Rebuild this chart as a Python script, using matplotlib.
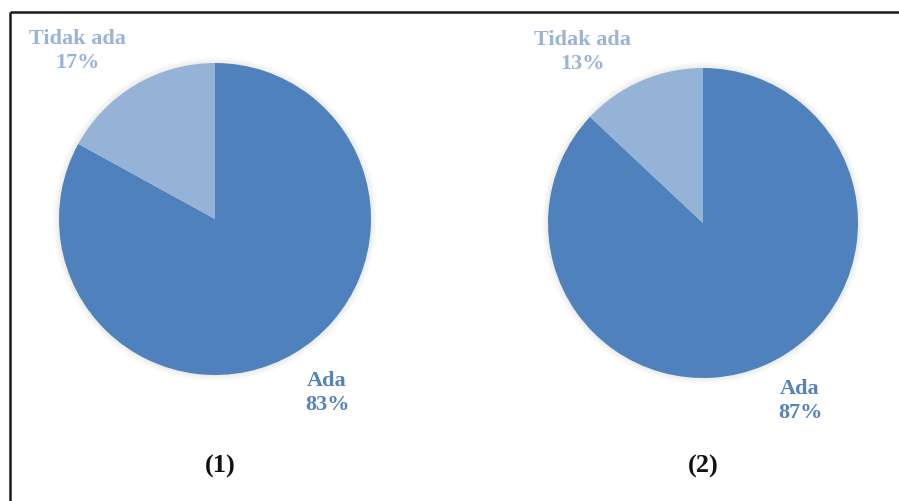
"""Two pie charts: Ada / Tidak ada, panels (1) and (2)."""
import matplotlib.pyplot as plt
from matplotlib.patches import Circle

W, H = 899, 502

labels = ["Ada", "Tidak ada"]
panel_names = ["(1)", "(2)"]
values_1 = [83, 17]
values_2 = [87, 13]

DARK = "#4F81BD"
LIGHT = "#95B3D7"
TXT_LIGHT = "#9AB4D5"
TXT_DARK = "#5482BC"
FONT = "Liberation Serif"


def fy(y):
    # picture y (from top) -> axes y (from bottom)
    return H - y


fig = plt.figure(figsize=(W / 100, H / 100), dpi=100)
ax = fig.add_axes([0, 0, 1, 1])

panels = [
    # values, centre, radius, label spots (tidak ada, ada), panel name spot
    (values_1, (215, 220), 156, (77, 51), (327, 393), (220, 466)),
    (values_2, (703, 224), 155, (582, 52), (800, 401), (703, 466)),
]

for (vals, (cx, cy), r, lt, la, lp), name in zip(panels, panel_names):
    # soft glow behind the pie
    for k in range(1, 7):
        ax.add_patch(Circle((cx, fy(cy)), r + k, color="#c8c8c0",
                            alpha=0.05, lw=0, zorder=1))
    ax.pie(vals, colors=[DARK, LIGHT], startangle=90, counterclock=False,
           center=(cx, fy(cy)), radius=r,
           wedgeprops=dict(linewidth=0, zorder=2))
    ax.text(lt[0], fy(lt[1]), f"{labels[1]}\n{vals[1]}%", ha="center",
            va="center", fontsize=16, fontweight="bold", family=FONT,
            color=TXT_LIGHT, linespacing=1.3)
    ax.text(la[0], fy(la[1]), f"{labels[0]}\n{vals[0]}%", ha="center",
            va="center", fontsize=16, fontweight="bold", family=FONT,
            color=TXT_DARK, linespacing=1.3)
    ax.text(lp[0], fy(lp[1]), name, ha="center", va="center",
            fontsize=19, fontweight="bold", family=FONT, color="#111111")

# frame: only top and left edges fall inside the picture
ax.plot([9.5, W + 5], [fy(12.5), fy(12.5)], color="#1a1a1a", lw=1.8,
        solid_capstyle="butt", zorder=5)
ax.plot([9.5, 9.5], [fy(12.5), fy(H + 5)], color="#1a1a1a", lw=1.8,
        solid_capstyle="butt", zorder=5)

ax.set_xlim(0, W)
ax.set_ylim(0, H)
ax.set_aspect("equal")
ax.axis("off")

fig.savefig("out.png", dpi=100)
